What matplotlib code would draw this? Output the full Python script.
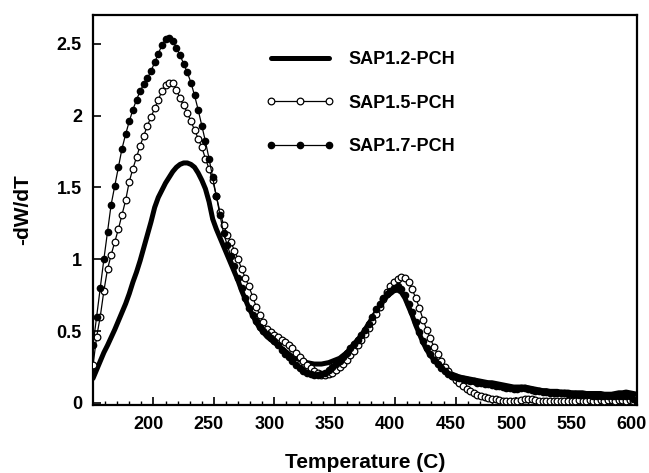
import numpy as np
import matplotlib
matplotlib.use('agg')
import matplotlib.pyplot as plt
import matplotlib.ticker as ticker
import matplotlib.transforms as mtransforms

# temperature grid (C), one reading every 3 degrees
temperature = np.arange(150, 601, 3)

# SAP1.2-PCH  (thick line, no markers)
sap12 = [0.17, 0.23, 0.29, 0.35, 0.40, 0.455, 0.51, 0.57, 0.63, 0.69,
         0.76, 0.84, 0.91, 0.99, 1.08, 1.17, 1.26, 1.36, 1.43, 1.48,
         1.53, 1.57, 1.61, 1.64, 1.66, 1.67, 1.67, 1.66, 1.64, 1.60,
         1.55, 1.49, 1.40, 1.28, 1.21, 1.15, 1.09, 1.03, 0.97, 0.91,
         0.85, 0.78, 0.72, 0.66, 0.61, 0.56, 0.52, 0.49, 0.46, 0.44,
         0.42, 0.40, 0.38, 0.36, 0.34, 0.32, 0.31, 0.30, 0.29, 0.28,
         0.275, 0.27, 0.27, 0.27, 0.275, 0.28, 0.29, 0.30, 0.31, 0.33,
         0.35, 0.38, 0.41, 0.44, 0.47, 0.51, 0.55, 0.59, 0.63, 0.67,
         0.71, 0.74, 0.76, 0.78, 0.785, 0.77, 0.73, 0.67, 0.61, 0.54,
         0.48, 0.42, 0.37, 0.33, 0.30, 0.27, 0.25, 0.23, 0.21, 0.20,
         0.19, 0.18, 0.175, 0.17, 0.165, 0.16, 0.155, 0.15, 0.145, 0.14,
         0.14, 0.135, 0.13, 0.125, 0.12, 0.115, 0.11, 0.11, 0.11, 0.11,
         0.105, 0.10, 0.095, 0.09, 0.085, 0.085, 0.08, 0.08, 0.08, 0.075,
         0.075, 0.075, 0.07, 0.07, 0.07, 0.07, 0.065, 0.065, 0.065, 0.065,
         0.065, 0.06, 0.06, 0.06, 0.065, 0.07, 0.07, 0.075, 0.07, 0.065,
         0.06]

# SAP1.5-PCH  (open circles)
sap15 = [0.26, 0.46, 0.60, 0.78, 0.93, 1.03, 1.12, 1.21, 1.31, 1.41,
         1.54, 1.63, 1.71, 1.79, 1.86, 1.93, 1.99, 2.05, 2.11, 2.17,
         2.21, 2.23, 2.23, 2.18, 2.12, 2.07, 2.02, 1.96, 1.90, 1.84,
         1.78, 1.70, 1.63, 1.55, 1.44, 1.33, 1.24, 1.17, 1.12, 1.06,
         1.00, 0.93, 0.87, 0.81, 0.74, 0.67, 0.61, 0.56, 0.515, 0.49,
         0.47, 0.455, 0.44, 0.42, 0.40, 0.38, 0.35, 0.32, 0.29, 0.26,
         0.24, 0.22, 0.205, 0.195, 0.195, 0.20, 0.21, 0.23, 0.25, 0.27,
         0.30, 0.33, 0.36, 0.40, 0.44, 0.48, 0.52, 0.57, 0.62, 0.67,
         0.72, 0.77, 0.81, 0.84, 0.86, 0.875, 0.87, 0.84, 0.79, 0.73,
         0.66, 0.58, 0.51, 0.45, 0.39, 0.34, 0.29, 0.25, 0.22, 0.19,
         0.16, 0.135, 0.115, 0.095, 0.08, 0.065, 0.055, 0.045, 0.04, 0.035,
         0.03, 0.025, 0.02, 0.015, 0.01, 0.01, 0.01, 0.015, 0.02, 0.025,
         0.03, 0.025, 0.02, 0.015, 0.015, 0.01, 0.015, 0.015, 0.01, 0.01,
         0.015, 0.015, 0.01, 0.015, 0.02, 0.015, 0.015, 0.02, 0.015, 0.015,
         0.02, 0.015, 0.02, 0.02, 0.015, 0.02, 0.02, 0.015, 0.02, 0.015,
         0.01]

# SAP1.7-PCH  (filled circles)
sap17 = [0.40, 0.60, 0.80, 1.00, 1.19, 1.38, 1.51, 1.64, 1.77, 1.87,
         1.96, 2.04, 2.11, 2.17, 2.22, 2.26, 2.31, 2.37, 2.43, 2.49,
         2.53, 2.54, 2.52, 2.47, 2.42, 2.36, 2.30, 2.23, 2.14, 2.04,
         1.93, 1.82, 1.70, 1.57, 1.44, 1.31, 1.18, 1.10, 1.02, 0.95,
         0.87, 0.80, 0.73, 0.66, 0.61, 0.57, 0.53, 0.50, 0.48, 0.45,
         0.43, 0.40, 0.37, 0.34, 0.32, 0.29, 0.26, 0.24, 0.22, 0.21,
         0.20, 0.195, 0.195, 0.20, 0.21, 0.23, 0.25, 0.27, 0.29, 0.32,
         0.35, 0.38, 0.41, 0.44, 0.47, 0.51, 0.55, 0.60, 0.65, 0.69,
         0.73, 0.76, 0.78, 0.80, 0.81, 0.79, 0.75, 0.69, 0.63, 0.56,
         0.49, 0.43, 0.38, 0.34, 0.30, 0.27, 0.24, 0.22, 0.20, 0.19,
         0.18, 0.17, 0.165, 0.16, 0.155, 0.15, 0.14, 0.135, 0.13, 0.13,
         0.125, 0.12, 0.115, 0.11, 0.105, 0.10, 0.095, 0.095, 0.10, 0.10,
         0.095, 0.09, 0.085, 0.08, 0.075, 0.075, 0.07, 0.07, 0.065, 0.065,
         0.065, 0.06, 0.06, 0.06, 0.055, 0.055, 0.055, 0.055, 0.05, 0.05,
         0.05, 0.05, 0.05, 0.05, 0.05, 0.05, 0.05, 0.05, 0.045, 0.03,
         0.01]

labels = ['SAP1.2-PCH', 'SAP1.5-PCH', 'SAP1.7-PCH']

plt.rcParams['font.family'] = ['Liberation Sans', 'DejaVu Sans']
plt.rcParams['font.weight'] = 'bold'

fig = plt.figure(figsize=(6.49, 4.73), dpi=100)
ax = fig.add_axes([0.1433, 0.1438, 0.8382, 0.8245])

ax.plot(temperature, sap12, '-', color='black', lw=3.6, label=labels[0],
        solid_capstyle='round', zorder=2)
ax.plot(temperature, sap15, 'o-', color='black', lw=0.9, ms=4.8,
        mfc='white', mec='black', mew=0.9, label=labels[1], zorder=3)
ax.plot(temperature, sap17, 'o-', color='black', lw=0.9, ms=4.5,
        mfc='black', mec='black', label=labels[2], zorder=4)

ax.set_xlim(150, 600)
ax.set_ylim(-0.015, 2.7)

ax.xaxis.set_major_locator(ticker.MultipleLocator(50))
ax.xaxis.set_minor_locator(ticker.MultipleLocator(10))
ax.yaxis.set_major_locator(ticker.MultipleLocator(0.5))
ax.xaxis.set_major_formatter(ticker.FuncFormatter(lambda v, p: '' if v < 200 else '%g' % v))
ax.yaxis.set_major_formatter(ticker.FuncFormatter(lambda v, p: '%g' % v))

ax.tick_params(which='major', direction='in', length=6, width=1.2,
               labelsize=13, pad=8)
ax.tick_params(which='minor', direction='in', length=3, width=1.0)
# the scanned labels sit a few pixels left of their ticks
shift = mtransforms.ScaledTranslation(-5 / 100, 0, fig.dpi_scale_trans)
for lab in ax.get_xticklabels():
    lab.set_transform(lab.get_transform() + shift)
for lab in ax.get_xticklabels() + ax.get_yticklabels():
    lab.set_fontweight('bold')
for spine in ax.spines.values():
    spine.set_linewidth(1.6)

ax.set_xlabel('Temperature (C)', fontsize=15, fontweight='bold', labelpad=14)
ax.set_ylabel('-dW/dT', fontsize=15, fontweight='bold', labelpad=18)

leg = ax.legend(loc='upper left', bbox_to_anchor=(0.318, 0.907), frameon=False,
                fontsize=13, numpoints=3, handlelength=3.8, handletextpad=0.75,
                labelspacing=1.47, borderpad=0, borderaxespad=0)
for t in leg.get_texts():
    t.set_fontweight('bold')

fig.savefig('out.png', dpi=100)
